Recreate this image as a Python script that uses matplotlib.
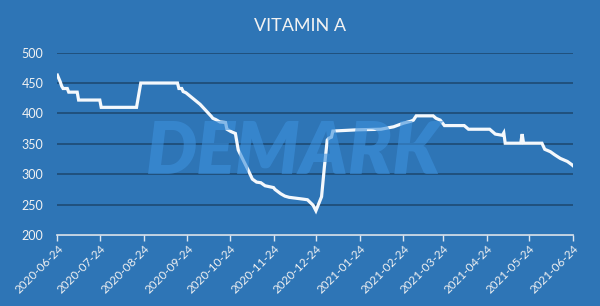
import pandas as pd
import matplotlib
matplotlib.use('Agg')
from matplotlib import pyplot as plt

title = 'VITAMIN A'
start_date = '2020-06-24'
day_offsets = [0, 2, 3, 4, 7, 8, 14, 15, 30, 31, 56, 59, 85, 86, 88, 89, 91, 101,
               109, 110, 112, 115, 119, 120, 123, 126, 128, 132, 135, 138, 141, 144,
               147, 153, 154, 158, 161, 164, 174, 177, 181, 183, 187, 189, 191, 192,
               194, 195, 212, 229, 238, 245, 250, 252, 254, 266, 268, 271, 274, 288,
               291, 306, 310, 315, 316, 317, 328, 329, 330, 343, 345, 349, 352, 356,
               361, 364, 365]
prices = [463, 452, 445, 441, 441, 435, 435, 422, 422, 410, 410, 450, 450, 441, 441,
          436, 434, 415, 395, 392, 390, 386, 385, 374, 370, 367, 340, 321, 307, 292,
          287, 286, 281, 278, 275, 268, 264, 262, 259, 258, 249, 240, 263, 312, 356,
          359, 361, 371, 373, 374, 378, 384, 387, 389, 396, 396, 392, 389, 380, 380,
          374, 374, 366, 364, 368, 351, 351, 366, 351, 351, 341, 337, 332, 326, 321,
          316, 314]
tick_labels = ['2020-06-24', '2020-07-24', '2020-08-24', '2020-09-24', '2020-10-24',
               '2020-11-24', '2020-12-24', '2021-01-24', '2021-02-24', '2021-03-24',
               '2021-04-24', '2021-05-24', '2021-06-24']
y_ticks = [200, 250, 300, 350, 400, 450, 500]

BG = '#2E75B6'
GRID = '#1F4E79'
TEXT = '#F2F2F2'


def main():
    plt.rcParams['font.family'] = ['Lato', 'DejaVu Sans']
    dates = pd.Timestamp(start_date) + pd.to_timedelta(day_offsets, unit='D')
    ticks = pd.to_datetime(tick_labels)

    fig = plt.figure(figsize=(6, 3.06), dpi=100, facecolor=BG)
    ax = fig.add_axes([0.0957, 0.232, 0.8593, 0.596], facecolor=BG)

    # faint watermark behind the chart
    fig.text(0.49, 0.50, 'DEMARK', fontsize=52, fontweight='heavy', style='italic',
             color='#3C90DC', alpha=0.6, ha='center', va='center', zorder=0)

    ax.plot(dates, prices, color='#F4F8FC', linewidth=2.3, zorder=3,
            solid_joinstyle='miter')

    ax.set_ylim(200, 500)
    ax.set_xlim(ticks[0], ticks[-1])
    ax.set_yticks(y_ticks)
    ax.set_xticks(ticks)
    ax.set_xticklabels(tick_labels, rotation=45, ha='right', rotation_mode='anchor')
    ax.grid(axis='y', color=GRID, linewidth=1.3, zorder=1)
    ax.set_axisbelow(True)

    for side in ['top', 'right', 'left']:
        ax.spines[side].set_visible(False)
    ax.spines['bottom'].set_color('#DDE6F0')
    ax.spines['bottom'].set_linewidth(1.2)
    ax.tick_params(axis='x', colors='#DDE6F0', length=4, width=1.0, labelsize=8.5,
                   labelcolor=TEXT, pad=2)
    ax.tick_params(axis='y', length=0, labelsize=9, labelcolor=TEXT, pad=10)
    ax.patch.set_alpha(0)

    fig.text(0.5, 0.915, title, fontsize=13, color=TEXT, ha='center', va='center')

    plt.savefig('out.png', dpi=100, facecolor=BG)


if __name__ == '__main__':
    main()
